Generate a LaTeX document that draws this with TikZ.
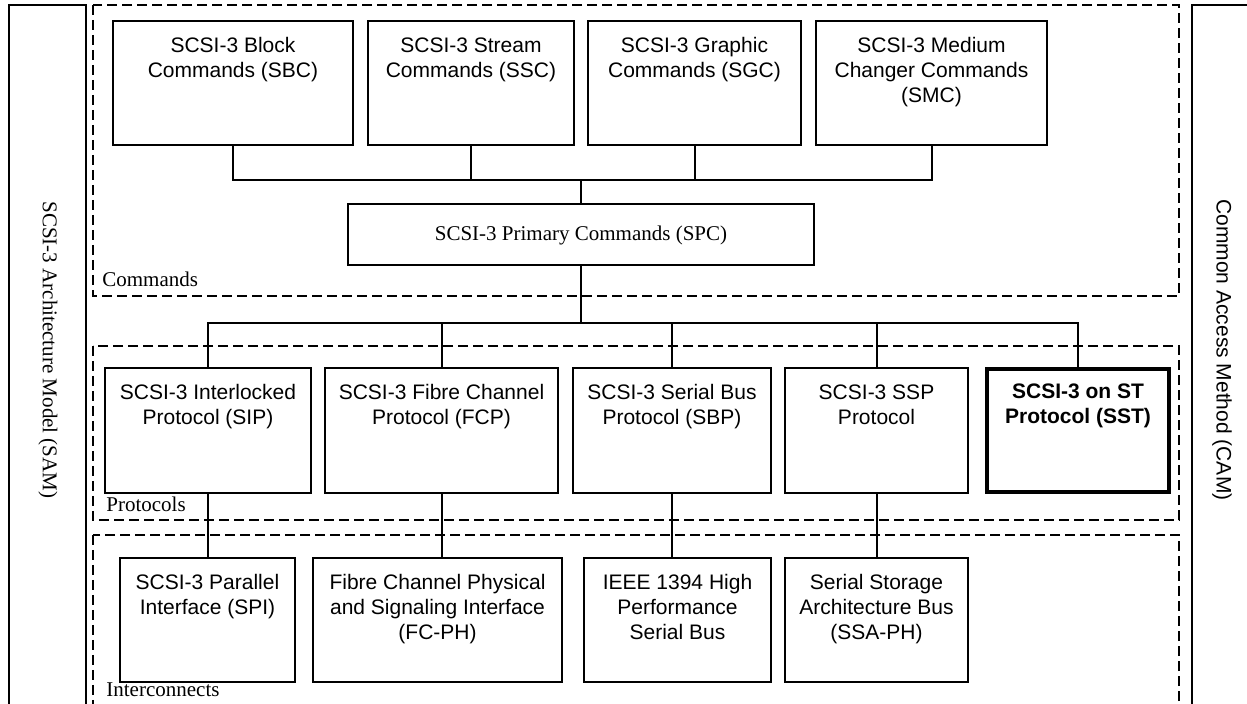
\documentclass[tikz,border=0pt]{standalone}
\usepackage{fontspec}
\setmainfont{Liberation Serif}
\newfontfamily\arialfont{Liberation Sans}

\tikzset{
  unit/.style={draw, line width=1pt, inner sep=0pt},
  unittext/.style={font=\arialfont\fontsize{10.5}{12.5}\selectfont, align=center, anchor=north, inner sep=0pt},
  group/.style={draw, line width=1pt, dash pattern=on 5pt off 2.5pt},
  grouplabel/.style={font=\fontsize{10.5}{12}\selectfont, anchor=base west, inner sep=0pt},
}

\begin{document}
\begin{tikzpicture}[x=0.5pt, y=-0.5pt]
    \useasboundingbox (0,0) rectangle (1247,704);

    \def\cmdy{83}
    \def\proty{430.5}
    \def\inty{620}

    % side columns
    \draw[line width=1pt] (9,5) rectangle (86,720);
    \draw[line width=1pt] (1192,5) rectangle (1270,720);
    \node[rotate=-90, font=\fontsize{10.5}{12}\selectfont] (sam) at (48,350) {SCSI-3 Architecture Model (SAM)};
    \node[rotate=-90, font=\arialfont\fontsize{10.5}{12}\selectfont] (cam) at (1222,350) {Common Access Method (CAM)};

    % layers
    \draw[group] (93,5) rectangle (1179,296);
    \draw[group] (93,346) rectangle (1179,520);
    \draw[group] (93,535) rectangle (1179,720);
    \node[grouplabel] (cmdlbl) at (102,287) {Commands};
    \node[grouplabel] (protlbl) at (106,512) {Protocols};
    \node[grouplabel] (intlbl) at (106,697) {Interconnects};

    % command sets
    \node[unit, minimum width=120pt, minimum height=62pt] (sbc) at (233,\cmdy) {};
    \node[unit, minimum width=103pt, minimum height=62pt] (ssc) at (471,\cmdy) {};
    \node[unit, minimum width=106.5pt, minimum height=62pt] (sgc) at (694.5,\cmdy) {};
    \node[unit, minimum width=115.5pt, minimum height=62pt] (smc) at (931.5,\cmdy) {};
    \node[unittext] (sbct) at ([yshift=-8.5pt]sbc.north) {SCSI-3 Block\\Commands (SBC)};
    \node[unittext] (ssct) at ([yshift=-8.5pt]ssc.north) {SCSI-3 Stream\\Commands (SSC)};
    \node[unittext] (sgct) at ([yshift=-8.5pt]sgc.north) {SCSI-3 Graphic\\Commands (SGC)};
    \node[unittext] (smct) at ([yshift=-8.5pt]smc.north) {SCSI-3 Medium\\Changer Commands\\(SMC)};

    \node[unit, minimum width=233pt, minimum height=30.5pt, font=\fontsize{10.5}{12}\selectfont] (spc) at (581,235) {SCSI-3 Primary Commands (SPC)};

    % protocols
    \node[unit, minimum width=103pt, minimum height=62.5pt] (sip) at (208,\proty) {};
    \node[unit, minimum width=116.5pt, minimum height=62.5pt] (fcp) at (441.5,\proty) {};
    \node[unit, minimum width=99pt, minimum height=62.5pt] (sbp) at (672,\proty) {};
    \node[unit, minimum width=91.5pt, minimum height=62.5pt] (ssp) at (876.5,\proty) {};
    \node[unit, line width=2pt, minimum width=91pt, minimum height=61.5pt] (sst) at (1078,\proty) {};
    \node[unittext] (sipt) at ([yshift=-8.5pt]sip.north) {SCSI-3 Interlocked\\Protocol (SIP)};
    \node[unittext] (fcpt) at ([yshift=-8.5pt]fcp.north) {SCSI-3 Fibre Channel\\Protocol (FCP)};
    \node[unittext] (sbpt) at ([yshift=-8.5pt]sbp.north) {SCSI-3 Serial Bus\\Protocol (SBP)};
    \node[unittext] (sspt) at ([yshift=-8.5pt]ssp.north) {SCSI-3 SSP\\Protocol};
    \node[unittext, font=\arialfont\bfseries\fontsize{10.5}{12.5}\selectfont] (sstt) at ([yshift=-8pt]sst.north) {SCSI-3 on ST\\Protocol (SST)};

    % interconnects
    \node[unit, minimum width=87.5pt, minimum height=62pt] (spi) at (207.5,\inty) {};
    \node[unit, minimum width=124.5pt, minimum height=62pt] (fcph) at (437.5,\inty) {};
    \node[unit, minimum width=93.5pt, minimum height=62pt] (ieee) at (677.5,\inty) {};
    \node[unit, minimum width=91.5pt, minimum height=62pt] (ssa) at (876.5,\inty) {};
    \node[unittext] (spit) at ([yshift=-8.5pt]spi.north) {SCSI-3 Parallel\\Interface (SPI)};
    \node[unittext] (fcpht) at ([yshift=-8.5pt]fcph.north) {Fibre Channel Physical\\and Signaling Interface\\(FC-PH)};
    \node[unittext] (ieeet) at ([yshift=-8.5pt]ieee.north) {IEEE 1394 High\\Performance\\Serial Bus};
    \node[unittext] (ssat) at ([yshift=-8.5pt]ssa.north) {Serial Storage\\Architecture Bus\\(SSA-PH)};

    % buses
    \coordinate (cbus) at (581,180);
    \coordinate (pbus) at (581,323);
    \draw[line width=1pt] (sbc.south) |- (cbus) -| (smc.south);
    \draw[line width=1pt] (ssc.south) -- (ssc.south |- cbus);
    \draw[line width=1pt] (sgc.south) -- (sgc.south |- cbus);
    \draw[line width=1pt] (cbus) -- (spc.north);
    \draw[line width=1pt] (spc.south) -- (pbus);
    \draw[line width=1pt] (sip.north) |- (pbus) -| (sst.north);
    \draw[line width=1pt] (fcp.north) -- (fcp.north |- pbus);
    \draw[line width=1pt] (sbp.north) -- (sbp.north |- pbus);
    \draw[line width=1pt] (ssp.north) -- (ssp.north |- pbus);

    \draw[line width=1pt] (sip.south) -- (sip.south |- spi.north);
    \draw[line width=1pt] (fcp.south) -- (fcp.south |- fcph.north);
    \draw[line width=1pt] (sbp.south) -- (sbp.south |- ieee.north);
    \draw[line width=1pt] (ssp.south) -- (ssa.north);
  \end{tikzpicture}
\end{document}
